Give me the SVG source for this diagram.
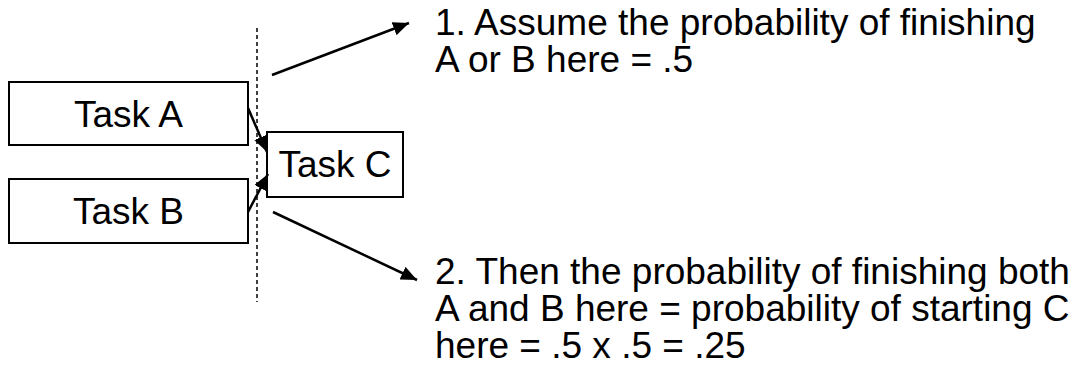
<svg xmlns="http://www.w3.org/2000/svg" width="1081" height="372" viewBox="0 0 1081 372">
  <style>
    .box { fill: #ffffff; stroke: #000000; stroke-width: 2; }
    .lbl { font-family: "Liberation Sans", Arial, sans-serif; font-size: 37px; fill: #000000; }
    .mid { text-anchor: middle; }
    .conn { stroke: #000000; stroke-width: 2.5; fill: none; marker-end: url(#arrow); }
    .dash { stroke: #000000; stroke-width: 1.5; stroke-dasharray: 4 3; fill: none; }
  </style>
  <defs>
    <marker id="arrow" markerUnits="userSpaceOnUse" markerWidth="18" markerHeight="14" refX="16" refY="7" orient="auto">
      <path d="M0,0 L16,7 L0,14 Z" fill="#000000"/>
    </marker>
  </defs>
  <rect width="1081" height="372" fill="#ffffff"/>
  <g id="divider">
    <line class="dash" x1="257" y1="28" x2="257" y2="302"/>
  </g>
  <g id="taskA">
    <rect class="box" x="9" y="82" width="239" height="63"/>
    <text class="lbl mid" x="128.5" y="127">Task A</text>
  </g>
  <g id="taskB">
    <rect class="box" x="9" y="179" width="239" height="64"/>
    <text class="lbl mid" x="128.5" y="224">Task B</text>
  </g>
  <g id="taskC">
    <rect class="box" x="267" y="132" width="136" height="65"/>
    <text class="lbl mid" x="335" y="177">Task C</text>
  </g>
  <g id="note1">
    <text class="lbl" x="435" y="35">1. Assume the probability of finishing</text>
    <text class="lbl" x="435" y="72">A or B here = .5</text>
  </g>
  <g id="note2">
    <text class="lbl" x="435" y="284">2. Then the probability of finishing both</text>
    <text class="lbl" x="435" y="321">A and B here = probability of starting C</text>
    <text class="lbl" x="435" y="358">here = .5 x .5 = .25</text>
  </g>
  <g id="connectors">
    <line class="conn" x1="248" y1="108" x2="267" y2="152"/>
    <line class="conn" x1="248" y1="212" x2="268" y2="174"/>
    <line class="conn" x1="272" y1="75" x2="409" y2="23"/>
    <line class="conn" x1="273" y1="212" x2="417" y2="280"/>
  </g>
</svg>
